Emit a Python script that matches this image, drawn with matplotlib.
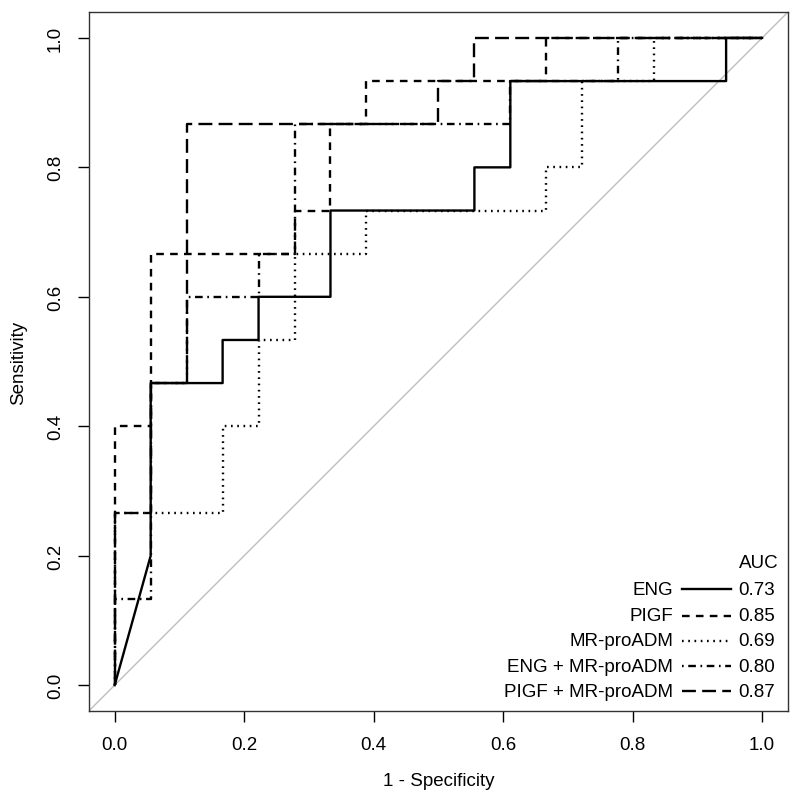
import matplotlib
matplotlib.use('Agg')
import matplotlib.pyplot as plt
from matplotlib.lines import Line2D

plt.rcParams['font.family'] = ['Liberation Sans', 'DejaVu Sans']
plt.rcParams['lines.scale_dashes'] = False

# ROC curves (x = 1 - specificity, y = sensitivity)
eng_x = [0, 0.0556, 0.0556, 0.1667, 0.1667, 0.2222, 0.2222, 0.3333, 0.3333, 0.5556, 0.5556, 0.6111, 0.6111, 0.9444, 0.9444, 1]
eng_y = [0, 0.2, 0.4667, 0.4667, 0.5333, 0.5333, 0.6, 0.6, 0.7333, 0.7333, 0.8, 0.8, 0.9333, 0.9333, 1, 1]

pigf_x = [0, 0, 0.0556, 0.0556, 0.2778, 0.2778, 0.3333, 0.3333, 0.3889, 0.3889, 0.6667, 0.6667, 1]
pigf_y = [0, 0.4, 0.4, 0.6667, 0.6667, 0.7333, 0.7333, 0.8667, 0.8667, 0.9333, 0.9333, 1, 1]

mr_x = [0, 0, 0.1667, 0.1667, 0.2222, 0.2222, 0.2778, 0.2778, 0.3889, 0.3889, 0.6667, 0.6667, 0.7222, 0.7222, 0.8333, 0.8333, 1]
mr_y = [0, 0.2667, 0.2667, 0.4, 0.4, 0.5333, 0.5333, 0.6667, 0.6667, 0.7333, 0.7333, 0.8, 0.8, 0.9333, 0.9333, 1, 1]

eng_mr_x = [0, 0, 0.0556, 0.0556, 0.1111, 0.1111, 0.2222, 0.2222, 0.2778, 0.2778, 0.6111, 0.6111, 0.7778, 0.7778, 1]
eng_mr_y = [0, 0.1333, 0.1333, 0.4667, 0.4667, 0.6, 0.6, 0.6667, 0.6667, 0.8667, 0.8667, 0.9333, 0.9333, 1, 1]

pigf_mr_x = [0, 0, 0.0556, 0.0556, 0.1111, 0.1111, 0.5, 0.5, 0.5556, 0.5556, 1]
pigf_mr_y = [0, 0.2667, 0.2667, 0.4667, 0.4667, 0.8667, 0.8667, 0.9333, 0.9333, 1, 1]

labels = ['ENG', 'PIGF', 'MR-proADM', 'ENG + MR-proADM', 'PIGF + MR-proADM']
aucs = ['0.73', '0.85', '0.69', '0.80', '0.87']
ticks = [0.0, 0.2, 0.4, 0.6, 0.8, 1.0]

# R-like line types (points)
styles = [
    '-',
    (0, (5.5, 4.5)),
    (0, (1.2, 3.3)),
    (0, (1.2, 3.3, 5.5, 3.3)),
    (0, (10, 4.5)),
]
fs = 13.5

fig = plt.figure(figsize=(8, 8.04), dpi=100)
ax = fig.add_axes([0.111, 0.1144, 0.874, 0.8694])

ax.axline((0, 0), (1, 1), color='#bebebe', lw=1, zorder=1)

curves = [(eng_x, eng_y), (pigf_x, pigf_y), (mr_x, mr_y), (eng_mr_x, eng_mr_y), (pigf_mr_x, pigf_mr_y)]
for (cx, cy), ls in zip(curves, styles):
    ax.plot(cx, cy, color='black', lw=1.7, linestyle=ls, zorder=2)

ax.set_xlim(-0.04, 1.04)
ax.set_ylim(-0.04, 1.04)
ax.set_xticks(ticks)
ax.set_yticks(ticks)
ax.set_xticklabels([f'{t:.1f}' for t in ticks])
ax.set_yticklabels([f'{t:.1f}' for t in ticks], rotation=90, va='center')
ax.tick_params(direction='out', length=8, width=1, labelsize=fs, pad=10, colors='black')
for s in ax.spines.values():
    s.set_color('#333333')
    s.set_linewidth(1)

ax.set_xlabel('1 - Specificity', fontsize=fs, labelpad=14)
ax.set_ylabel('Sensitivity', fontsize=fs, labelpad=14)

# legend in R style: labels, line sample, AUC value
lx_label = 0.836
lx0, lx1 = 0.848, 0.918
lx_val = 0.929
row_y = [0.1745, 0.136, 0.1005, 0.064, 0.028]
ax.text(0.958, 0.213, 'AUC', transform=ax.transAxes, ha='center', va='center', fontsize=fs)
for lab, auc, ls, yy in zip(labels, aucs, styles, row_y):
    ax.text(lx_label, yy, lab, transform=ax.transAxes, ha='right', va='center', fontsize=fs)
    ax.add_line(Line2D([lx0, lx1], [yy, yy], transform=ax.transAxes, color='black', lw=1.7, linestyle=ls))
    ax.text(lx_val, yy, auc, transform=ax.transAxes, ha='left', va='center', fontsize=fs)

fig.savefig('out.png', dpi=100)
